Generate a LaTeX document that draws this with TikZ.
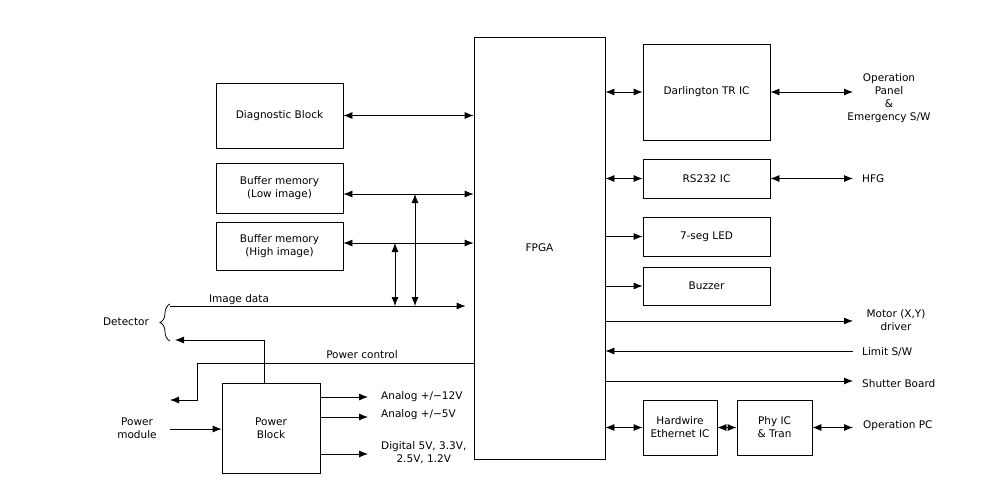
\documentclass[tikz,border=0pt]{standalone}
\usepackage{fontspec}
\setmainfont{DejaVu Sans}
\usetikzlibrary{arrows.meta, decorations.pathreplacing}

\tikzset{
    block/.style = {draw, line width=0.8pt, align=center, inner sep=0pt},
    arr/.style = {-{Latex[length=9pt, width=7pt]}, line width=0.8pt},
    dbl/.style = {{Latex[length=9pt, width=7pt]}-{Latex[length=9pt, width=7pt]}, line width=0.8pt},
    lbl/.style = {align=center, inner sep=1pt},
}

\begin{document}
\begin{tikzpicture}[x=1pt, y=-1pt, font=\fontsize{10.5}{13}\selectfont]
    \useasboundingbox (0,0) rectangle (988,483);

    % FPGA
    \node[block, minimum width=131pt, minimum height=422pt] (fpga) at (539.5,248) {FPGA};

    % left side blocks
    \node[block, minimum width=127pt, minimum height=65pt] (diag) at (279.5,115.5) {Diagnostic Block};
    \node[block, minimum width=127pt, minimum height=50pt] (lowbuf) at (279.5,188) {Buffer memory\\(Low image)};
    \node[block, minimum width=127pt, minimum height=48pt] (highbuf) at (279.5,246) {Buffer memory\\(High image)};
    \node[block, minimum width=98pt, minimum height=90pt] (power) at (271,428) {Power\\Block};

    % right side blocks
    \node[block, minimum width=127pt, minimum height=96pt] (darl) at (706.5,92) {Darlington TR IC};
    \node[block, minimum width=127pt, minimum height=39pt] (rs) at (706.5,178.5) {RS232 IC};
    \node[block, minimum width=127pt, minimum height=39pt] (seg) at (706.5,236.5) {7-seg LED};
    \node[block, minimum width=127pt, minimum height=38pt] (buzz) at (706.5,286) {Buzzer};
    \node[block, minimum width=74pt, minimum height=55pt] (hweth) at (680,427.5) {Hardwire\\Ethernet IC};
    \node[block, minimum width=75pt, minimum height=55pt] (phy) at (774.5,427.5) {Phy IC\\\& Tran};

    % labels
    \node[lbl] (opanel) at (889,98) {Operation\\Panel\\\&\\Emergency S/W};
    \node[lbl, anchor=west] (hfg) at (861,179) {HFG};
    \node[lbl] (motor) at (896,320) {Motor (X,Y)\\driver};
    \node[lbl, anchor=west] (limit) at (861,352) {Limit S/W};
    \node[lbl, anchor=west] (shutter) at (861,384) {Shutter Board};
    \node[lbl, anchor=west] (oppc) at (862,426) {Operation PC};
    \node[lbl] (detector) at (126,322) {Detector};
    \node[lbl] (pmodule) at (137,428) {Power\\module};
    \node[lbl] (imgdata) at (239,300) {Image data};
    \node[lbl] (pwrctrl) at (362,355) {Power control};
    \node[lbl, anchor=west] (a12) at (380,397) {Analog +/−12V};
    \node[lbl, anchor=west] (a5) at (380,415) {Analog +/−5V};
    \node[lbl, anchor=west] (dig) at (380,453) {Digital 5V, 3.3V,\\2.5V, 1.2V};

    % free ends
    \coordinate (oppin) at (853,92);
    \coordinate (hfgin) at (853,179);
    \coordinate (motorin) at (853,321);
    \coordinate (limitout) at (853,351);
    \coordinate (shutin) at (853,381);
    \coordinate (pcin) at (853,427);
    \coordinate (imgsrc) at (170,306);
    \coordinate (detin) at (175,340);
    \coordinate (pcbend) at (197,363);
    \coordinate (pcend) at (170,400);
    \coordinate (pmsrc) at (170,429);
    \coordinate (o12) at (368,397);
    \coordinate (o5) at (368,417);
    \coordinate (odig) at (368,454);
    \coordinate (busA) at (415,0);
    \coordinate (busB) at (395,0);

    % left connections
    \draw[dbl] (diag.east) -- (fpga.west |- diag.east);
    \draw[dbl] ([yshift=-6pt]lowbuf.east) coordinate (lowy) -- (fpga.west |- lowy);
    \draw[dbl] ([yshift=3pt]highbuf.east) coordinate (highy) -- (fpga.west |- highy);
    \draw[arr, shorten >=8pt] (imgsrc) -- (fpga.west |- imgsrc);
    \draw[dbl] (busA |- lowy) -- (busA |- imgsrc);
    \draw[dbl] (busB |- highy) -- (busB |- imgsrc);
    \draw[line width=0.8pt, decorate, decoration={brace, amplitude=10pt}] (170,341) -- (170,304);
    \draw[arr] ([xshift=-7pt]power.north) |- (detin);
    \draw[arr] (fpga.west |- pcbend) -- (pcbend) |- (pcend);
    \draw[arr] (pmsrc) -- (power.west |- pmsrc);
    \draw[arr] (power.east |- o12) -- (o12);
    \draw[arr] (power.east |- o5) -- (o5);
    \draw[arr] (power.east |- odig) -- (odig);

    % right connections
    \draw[dbl] (fpga.east |- darl) -- (darl.west);
    \draw[dbl] (darl.east) -- (darl.east -| oppin);
    \draw[dbl] (fpga.east |- rs) -- (rs.west);
    \draw[dbl] (rs.east) -- (rs.east -| hfgin);
    \draw[arr] (fpga.east |- seg) -- (seg.west);
    \draw[arr] (fpga.east |- buzz) -- (buzz.west);
    \draw[arr] (fpga.east |- motorin) -- (motorin);
    \draw[arr] (limitout) -- (fpga.east |- limitout);
    \draw[arr] (fpga.east |- shutin) -- (shutin);
    \draw[dbl] (fpga.east |- hweth) -- (hweth.west);
    \draw[dbl] (hweth.east) -- (phy.west);
    \draw[dbl] (phy.east) -- (phy.east -| pcin);
\end{tikzpicture}
\end{document}
